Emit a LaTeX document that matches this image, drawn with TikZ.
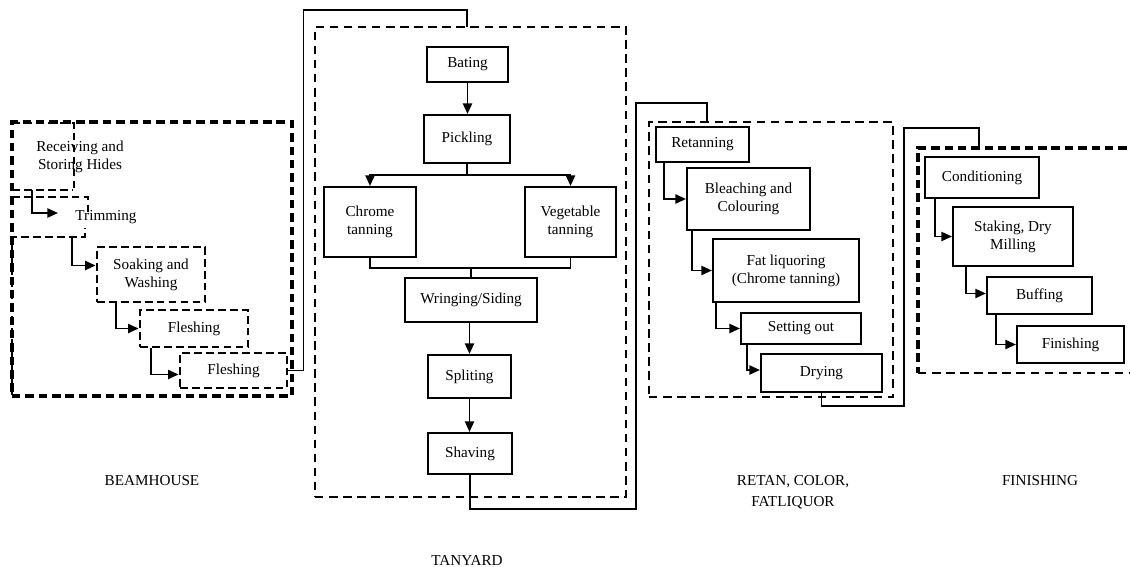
\documentclass[tikz,border=0pt]{standalone}
\usepackage{fontspec}
\setmainfont{Liberation Serif}
\usetikzlibrary{arrows.meta,calc}
\newcommand{\pbox}[7]{\node[#6, minimum width={(#4-#2)*0.025cm}, minimum height={(#5-#3)*0.025cm}] (#1) at ({(#2+#4)/2},{(#3+#5)/2}) {#7};}
\begin{document}
\begin{tikzpicture}[x=0.025cm,y=-0.025cm,
  txt/.style={font=\fontsize{10.8}{12.8}\selectfont, align=center, inner sep=0pt},
  proc/.style={txt, draw, line width=1.5pt},
  dproc/.style={txt, draw, line width=2pt, dash pattern=on 5.5pt off 3pt},
  region/.style={draw, line width=2.3pt, dash pattern=on 6pt off 3.5pt},
  tregion/.style={draw, line width=1.9pt, dash pattern=on 6pt off 4pt},
  dsh/.style={line width=1.8pt, dash pattern=on 5.5pt off 3pt},
  conn/.style={line width=1.2pt},
  arr/.style={line width=1.3pt, -{Triangle[length=7.5pt,width=6.5pt]}}]
\useasboundingbox (0,0) rectangle (1130,566);

% ---------------- BEAMHOUSE ----------------
\pbox{beam}{12}{122}{292}{396}{region}{}
\node[txt] (recv) at (80,157) {Receiving and\\Storing Hides};
\node[txt] (trim) at (106,217) {Trimming};
\draw[dsh] (12,123) -| (74,188);
\draw[dsh] (12,190) -- (72,190);
\draw[dsh] (12,197) -| (88,215);
\draw[dsh] (12,395) |- (85,237) -- (85,228);
\pbox{soak}{97}{247}{205}{302}{dproc}{Soaking and\\Washing}
\pbox{fla}{140}{310}{248}{347}{dproc}{Fleshing}
\pbox{flb}{180}{353}{287}{388}{dproc}{Fleshing}
\coordinate (recvout) at (32,190);
\coordinate (trimin) at (58,213);
\coordinate (trimout) at (72,237);
\draw[arr] (recvout) |- (trimin);
\draw[arr] (trimout) |- ($(soak.west)+(0,-9)$);
\draw[arr] ($(soak.south west)+(20,0)$) |- (fla.west);
\draw[arr] ($(fla.south west)+(12,0)$) |- ($(flb.west)+(0,4)$);

% ---------------- TANYARD ----------------
\pbox{tan}{315}{27}{626}{497}{tregion}{}
\pbox{bat}{427}{47}{508}{82}{proc}{Bating}
\pbox{pick}{424}{115}{510}{163}{proc}{Pickling}
\pbox{chrome}{324}{187}{416}{257}{proc}{Chrome\\tanning}
\pbox{veg}{525}{187}{616}{257}{proc}{Vegetable\\tanning}
\pbox{wring}{405}{278}{537}{322}{proc}{Wringing/Siding}
\pbox{split}{428}{355}{511}{398}{proc}{Spliting}
\pbox{shav}{428}{433}{512}{474}{proc}{Shaving}
\draw[arr] (bat.south) -- (bat.south |- pick.north);
\draw[conn] (pick.south) -- ++(0,11) coordinate (fork);
\draw[arr] (fork) -| (chrome.north);
\draw[arr] (fork) -| (veg.north);
\draw[conn] (chrome.south) -- ++(0,10) coordinate (joinl) -| (veg.south);
\draw[conn] (wring.north) -- (wring.north |- joinl);
\draw[arr] (split.north |- wring.south) -- (split.north);
\draw[arr] (split.south) -- (split.south |- shav.north);

% ---------------- RETAN ----------------
\pbox{retan}{649}{122}{893}{397}{tregion}{}
\pbox{ret}{656}{127}{749}{162}{proc}{Retanning}
\pbox{blc}{687}{168}{810}{230}{proc}{Bleaching and\\Colouring}
\pbox{fat}{713}{239}{859}{302}{proc}{Fat liquoring\\(Chrome tanning)}
\pbox{set}{741}{313}{861}{344}{proc}{Setting out}
\pbox{dry}{761}{354}{882}{392}{proc}{Drying}
\draw[arr] ($(ret.south west)+(9,0)$) |- (blc.west);
\draw[arr] ($(blc.south west)+(6,0)$) |- (fat.west);
\draw[arr] ($(fat.south west)+(4,0)$) |- (set.west);
\draw[arr] ($(set.south west)+(7,0)$) |- ($(dry.west)+(0,-3)$);

% ---------------- FINISHING ----------------
\draw[region] (1140,148) -- (918,148) -- (918,373);
\draw[tregion] (918,373) -- (1140,373);
\coordinate (finl) at (918,148);
\pbox{cond}{925}{157}{1039}{198}{proc}{Conditioning}
\pbox{stak}{953}{207}{1073}{266}{proc}{Staking, Dry\\Milling}
\pbox{buff}{987}{277}{1092}{314}{proc}{Buffing}
\pbox{fini}{1017}{326}{1124}{363}{proc}{Finishing}
\draw[arr] ($(cond.south west)+(11,0)$) |- (stak.west);
\draw[arr] ($(stak.south west)+(14,0)$) |- ($(buff.west)+(0,-2)$);
\draw[arr] ($(buff.south west)+(10,0)$) |- (fini.west);

% ---------------- links between stages ----------------
\draw[conn] (flb.east) -- ++(15,0) |- (467,10) -- (467,27);
\draw[conn] (shav.south) -- ++(0,34) -| (636,103) -| (707,122);
\draw[conn] (dry.south) -- ++(0,13) -| (904,128) -| ($(finl)+(61,0)$);

% ---------------- labels ----------------
\node[txt] (lbeam) at (152,481) {BEAMHOUSE};
\node[txt] (ltan) at (467,560) {TANYARD};
\node[txt] (lret) at (793,492) {RETAN, COLOR,\\[2pt]FATLIQUOR};
\node[txt] (lfin) at (1040,481) {FINISHING};
\end{tikzpicture}
\end{document}
